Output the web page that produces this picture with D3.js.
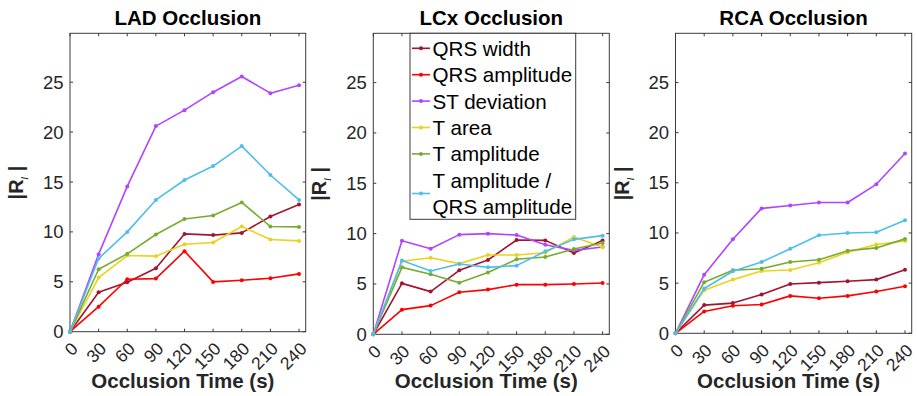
<!DOCTYPE html>
<html>
<head>
<meta charset="utf-8">
<script src="https://cdn.jsdelivr.net/npm/d3@7"></script>
<style>
  body { margin: 0; background: #fff; }
  svg { display: block; font-family: "Liberation Sans", Arial, Helvetica, sans-serif; }
</style>
</head>
<body>
<div id="chart"></div>
<script>
// occlusion times (s)
const times = [0, 30, 60, 90, 120, 150, 180, 210, 240];
const xTicks = [0, 30, 60, 90, 120, 150, 180, 210, 240];
const yTicks = [0, 5, 10, 15, 20, 25];

const seriesNames = ['QRS width', 'QRS amplitude', 'ST deviation', 'T area', 'T amplitude', 'T amplitude / QRS amplitude'];
const seriesColors = ['#a2142f', '#ff0000', '#b244ff', '#ead21e', '#77ac30', '#4dbeee'];

// LAD occlusion
const ladQrsWidth = [0, 3.95, 4.96, 6.36, 9.8, 9.68, 9.9, 11.55, 12.75];
const ladQrsAmp   = [0, 2.51, 5.26, 5.32, 8.07, 4.99, 5.16, 5.36, 5.79];
const ladST       = [0, 7.77, 14.56, 20.6, 22.2, 24.0, 25.57, 23.9, 24.7];
const ladTArea    = [0, 5.42, 7.63, 7.57, 8.77, 8.94, 10.54, 9.24, 9.1];
const ladTAmp     = [0, 6.26, 7.8, 9.74, 11.3, 11.65, 12.95, 10.54, 10.5];
const ladRatio    = [0, 7.33, 10.0, 13.2, 15.2, 16.6, 18.6, 15.7, 13.2];

// LCx occlusion
const lcxQrsWidth = [0, 5.06, 4.24, 6.36, 7.38, 9.37, 9.33, 8.07, 9.33];
const lcxQrsAmp   = [0, 2.45, 2.85, 4.17, 4.44, 4.93, 4.93, 5.0, 5.1];
const lcxST       = [0, 9.3, 8.5, 9.9, 10.0, 9.86, 8.9, 8.34, 8.67];
const lcxTArea    = [0, 7.25, 7.6, 7.02, 7.87, 7.87, 8.1, 9.66, 8.64];
const lcxTAmp     = [0, 6.65, 5.96, 5.13, 6.13, 7.45, 7.68, 8.47, 9.07];
const lcxRatio    = [0, 7.32, 6.29, 6.98, 6.65, 6.82, 8.24, 9.43, 9.8];

// RCA occlusion
const rcaQrsWidth = [0, 2.81, 3.01, 3.86, 4.92, 5.05, 5.19, 5.35, 6.34];
const rcaQrsAmp   = [0, 2.18, 2.74, 2.87, 3.73, 3.5, 3.73, 4.16, 4.69];
const rcaST       = [0, 5.84, 9.38, 12.45, 12.74, 13.04, 13.04, 14.85, 17.92];
const rcaTArea    = [0, 4.3, 5.35, 6.21, 6.31, 7.03, 8.09, 8.85, 9.21];
const rcaTAmp     = [0, 5.09, 6.28, 6.44, 7.1, 7.33, 8.22, 8.51, 9.41];
const rcaRatio    = [0, 4.46, 6.18, 7.1, 8.42, 9.77, 10.0, 10.07, 11.26];

const panels = [
  { title: 'LAD Occlusion', series: [ladQrsWidth, ladQrsAmp, ladST, ladTArea, ladTAmp, ladRatio], left: 70, right: 305.7, bottom: 331.7 },
  { title: 'LCx Occlusion', series: [lcxQrsWidth, lcxQrsAmp, lcxST, lcxTArea, lcxTAmp, lcxRatio], left: 373.3, right: 609.3, bottom: 334.3, legend: true },
  { title: 'RCA Occlusion', series: [rcaQrsWidth, rcaQrsAmp, rcaST, rcaTArea, rcaTAmp, rcaRatio], left: 675.5, right: 911.7, bottom: 333.3 }
];

const width = 917, height = 396;
const axTop = 33.3;
const axisColor = '#3a3a3a';
const textColor = '#262626';

const svg = d3.select('#chart').append('svg')
  .attr('width', width)
  .attr('height', height);

panels.forEach(p => drawPanel(p));

function drawPanel(p) {
  const x = d3.scaleLinear().domain([0, 247]).range([p.left, p.right]);
  const y = d3.scaleLinear().domain([0, 29.9]).range([p.bottom, axTop]);
  const g = svg.append('g');

  // box + inward ticks on all four sides
  g.append('rect')
    .attr('x', p.left).attr('y', axTop)
    .attr('width', p.right - p.left).attr('height', p.bottom - axTop)
    .attr('fill', 'none').attr('stroke', axisColor).attr('stroke-width', 1);

  const tl = 3;
  xTicks.forEach(t => {
    g.append('line').attr('x1', x(t)).attr('x2', x(t)).attr('y1', p.bottom).attr('y2', p.bottom - tl).attr('stroke', axisColor);
    g.append('line').attr('x1', x(t)).attr('x2', x(t)).attr('y1', axTop).attr('y2', axTop + tl).attr('stroke', axisColor);
    g.append('text')
      .attr('transform', `translate(${x(t) - 0.5},${p.bottom + 9}) rotate(-45)`)
      .attr('text-anchor', 'end')
      .attr('dy', '0.75em')
      .attr('font-size', 17.5)
      .attr('fill', textColor)
      .text(t);
  });
  yTicks.forEach(v => {
    g.append('line').attr('x1', p.left).attr('x2', p.left + tl).attr('y1', y(v)).attr('y2', y(v)).attr('stroke', axisColor);
    g.append('line').attr('x1', p.right).attr('x2', p.right - tl).attr('y1', y(v)).attr('y2', y(v)).attr('stroke', axisColor);
    g.append('text')
      .attr('x', p.left - 6.5).attr('y', y(v))
      .attr('text-anchor', 'end')
      .attr('dominant-baseline', 'central')
      .attr('font-size', 18.5)
      .attr('fill', textColor)
      .text(v);
  });

  // title
  g.append('text')
    .attr('x', (p.left + p.right) / 2).attr('y', 25)
    .attr('text-anchor', 'middle')
    .attr('font-size', 20.5).attr('font-weight', 'bold')
    .attr('fill', '#000')
    .text(p.title);

  // x label
  g.append('text')
    .attr('x', (p.left + p.right) / 2 - 5).attr('y', 388)
    .attr('text-anchor', 'middle')
    .attr('font-size', 20.5).attr('font-weight', 'bold')
    .attr('fill', textColor)
    .text('Occlusion Time (s)');

  // y label |R_ι|
  const yl = g.append('text')
    .attr('transform', `translate(${p.left - 47},${(axTop + p.bottom) / 2}) rotate(-90)`)
    .attr('text-anchor', 'middle')
    .attr('font-size', 20).attr('font-weight', 'bold')
    .attr('fill', textColor);
  yl.append('tspan').text('|R');
  yl.append('tspan').attr('font-size', 12).attr('font-weight', 'normal').attr('font-style', 'italic').attr('dy', 5).text('ι');
  yl.append('tspan').attr('dy', -5).text(' |');

  const line = d3.line()
    .x((d, i) => x(times[i]))
    .y(d => y(d));

  p.series.forEach((s, k) => {
    g.append('path')
      .datum(s)
      .attr('fill', 'none')
      .attr('stroke', seriesColors[k])
      .attr('stroke-width', 1.6)
      .attr('stroke-linejoin', 'round')
      .attr('d', line);
    g.selectAll(null)
      .data(s)
      .enter().append('circle')
      .attr('cx', (d, i) => x(times[i]))
      .attr('cy', d => y(d))
      .attr('r', 2)
      .attr('fill', seriesColors[k]);
  });

  if (p.legend) drawLegend(g);
}

function drawLegend(g) {
  const lx = 410, ly = axTop, lw = 165.7, lh = 186;
  g.append('rect')
    .attr('x', lx).attr('y', ly).attr('width', lw).attr('height', lh)
    .attr('fill', '#fff').attr('stroke', axisColor).attr('stroke-width', 1);

  const rowH = 26.4;
  seriesNames.forEach((name, i) => {
    // last name wraps on two lines
    const parts = name.includes('/') ? ['T amplitude /', 'QRS amplitude'] : [name];
    const cy = ly + 15 + i * rowH + (parts.length - 1) * rowH / 2;
    g.append('line')
      .attr('x1', lx + 2).attr('x2', lx + 20)
      .attr('y1', cy).attr('y2', cy)
      .attr('stroke', seriesColors[i]).attr('stroke-width', 1.6);
    g.append('circle')
      .attr('cx', lx + 11).attr('cy', cy).attr('r', 2)
      .attr('fill', seriesColors[i]);
    parts.forEach((t, j) => {
      g.append('text')
        .attr('x', lx + 22.5)
        .attr('y', cy + (j - (parts.length - 1) / 2) * rowH)
        .attr('dominant-baseline', 'central')
        .attr('font-size', 20.6)
        .attr('fill', '#000')
        .text(t);
    });
  });
}
</script>
</body>
</html>
